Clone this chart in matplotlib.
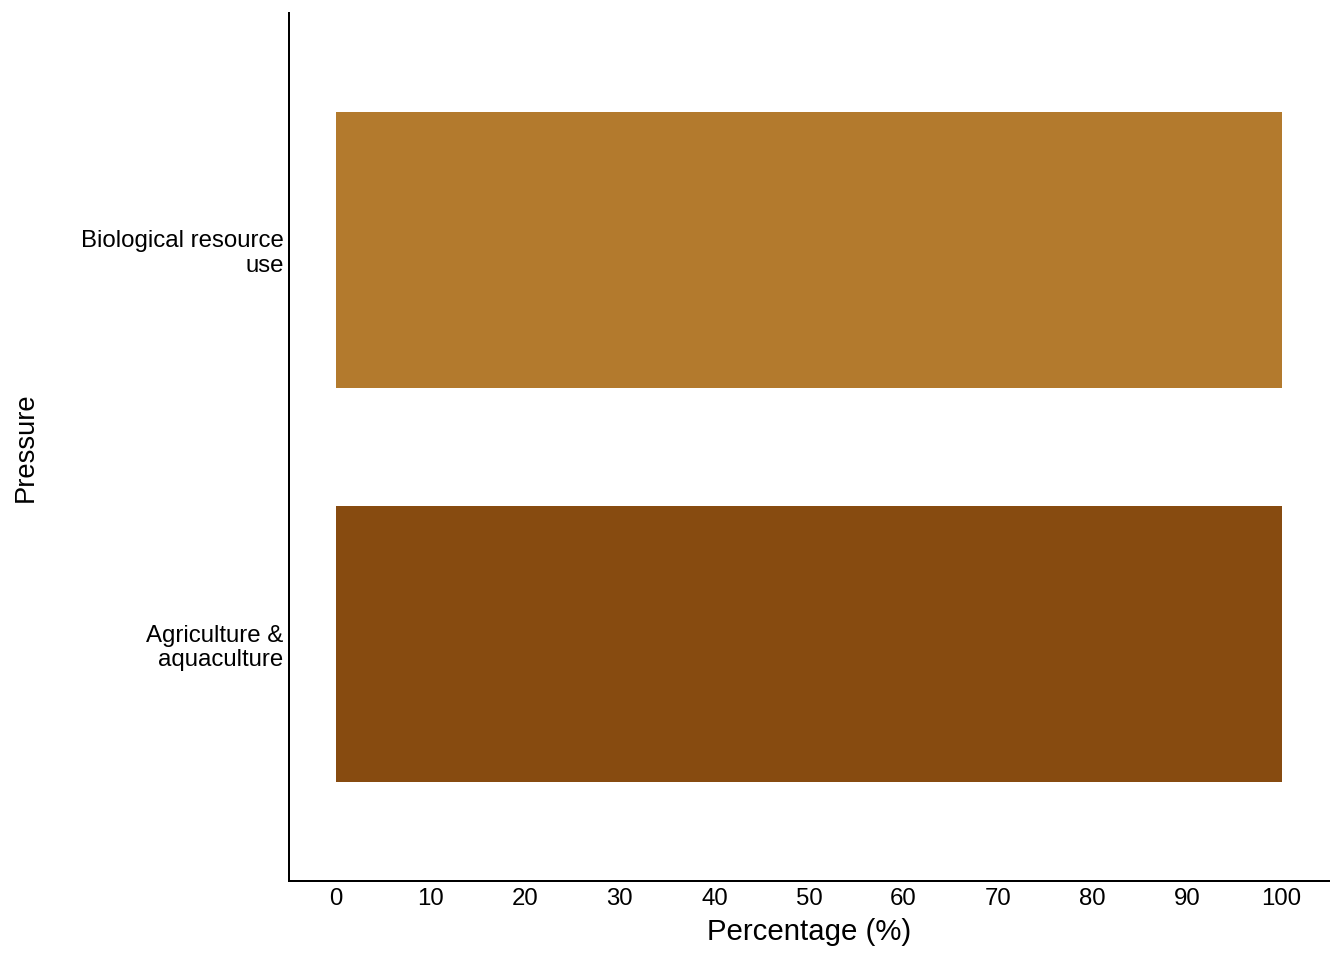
import matplotlib.pyplot as plt

plt.rcParams['font.family'] = ['Liberation Sans', 'DejaVu Sans']

pressures = ['Agriculture &\naquaculture', 'Biological resource\nuse']
percentages = [100, 100]
colors = ['#874B10', '#B37A2D']
x_ticks = [0, 10, 20, 30, 40, 50, 60, 70, 80, 90, 100]

fig = plt.figure(figsize=(14, 10), dpi=96)
ax = fig.add_axes([0.2150, 0.0823, 0.7738, 0.9042])

ax.barh(range(1, len(pressures) + 1), percentages, height=0.7, color=colors)

ax.set_xlim(-5, 105)
ax.set_ylim(0.4, 2.6)
ax.set_xticks(x_ticks)
ax.set_yticks(range(1, len(pressures) + 1))
ax.set_yticklabels(pressures, ha='right', linespacing=1.15)
ax.tick_params(axis='both', length=0, labelsize=18)
ax.tick_params(axis='x', pad=5)
ax.tick_params(axis='y', pad=4)
ax.set_xlabel('Percentage (%)', fontsize=22, labelpad=6)
ax.set_ylabel('Pressure', fontsize=20.5)
ax.yaxis.set_label_coords(-0.241, 0.5)

for s in ['top', 'right']:
    ax.spines[s].set_visible(False)
for s in ['left', 'bottom']:
    ax.spines[s].set_linewidth(1.5)

fig.savefig('out.png', dpi=96)
